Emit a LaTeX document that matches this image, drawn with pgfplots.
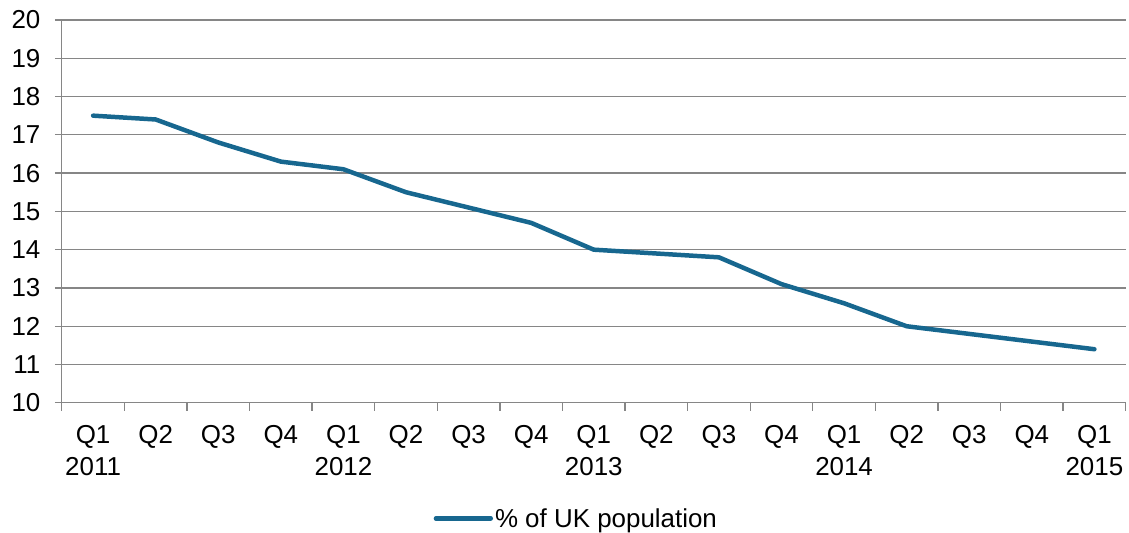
\documentclass[border=0pt]{standalone}
\usepackage{pgfplots}
\pgfplotsset{compat=1.18}
\usepackage{fontspec}
\setmainfont{Liberation Sans}
\definecolor{lineblue}{RGB}{23,103,143}
\definecolor{gridgrey}{RGB}{134,134,134}
\newcommand{\chartfont}{\fontsize{26bp}{32bp}\selectfont}
\begin{document}
\begin{tikzpicture}
\begin{axis}[
  scale only axis,
  width=1067bp, height=384bp,
  xmin=-0.5, xmax=16.5,
  ymin=10, ymax=20,
  axis lines*=left,
  axis line style={gridgrey, line width=1.3bp},
  ytick={10,...,20},
  ymajorgrids,
  grid style={gridgrey, line width=1.3bp},
  tick align=outside,
  major tick length=7bp,
  tick style={gridgrey, line width=1.3bp},
  /pgf/number format/assume math mode=true,
  xtick={0,...,16},
  xtick style={draw=none},
  xticklabels={{Q1\\2011},Q2,Q3,Q4,{Q1\\2012},Q2,Q3,Q4,{Q1\\2013},Q2,Q3,Q4,{Q1\\2014},Q2,Q3,Q4,{Q1\\2015}},
  xticklabel style={align=center, anchor=north, yshift=-12bp, font=\chartfont},
  yticklabel style={font=\chartfont, xshift=-11bp},
  extra x ticks={-0.5,0.5,...,16.5},
  extra x tick labels={},
  extra x tick style={xtick style={draw=gridgrey, line width=1.3bp}, major tick length=8bp, grid=none},
  legend style={at={(0.4836,-0.302)}, anchor=center, draw=none, fill=none, font=\chartfont,
    inner sep=0pt, nodes={inner sep=2bp}},
  legend image code/.code={\draw[#1, line cap=round] (0bp,0bp) -- (55bp,0bp);},
  clip=false,
]
\addplot[lineblue, line width=4.5bp, line join=round, line cap=round] coordinates {
  (0,17.5) (1,17.4) (2,16.8) (3,16.3) (4,16.1) (5,15.5) (6,15.1) (7,14.7)
  (8,14.0) (9,13.9) (10,13.8) (11,13.1) (12,12.6) (13,12.0) (14,11.8)
  (15,11.6) (16,11.4)
};
\addlegendentry{\% of UK population}
\path (rel axis cs:0,0) ++(-62bp,-130bp) (rel axis cs:1,1) ++(1bp,20bp);
\end{axis}
\end{tikzpicture}
\end{document}
